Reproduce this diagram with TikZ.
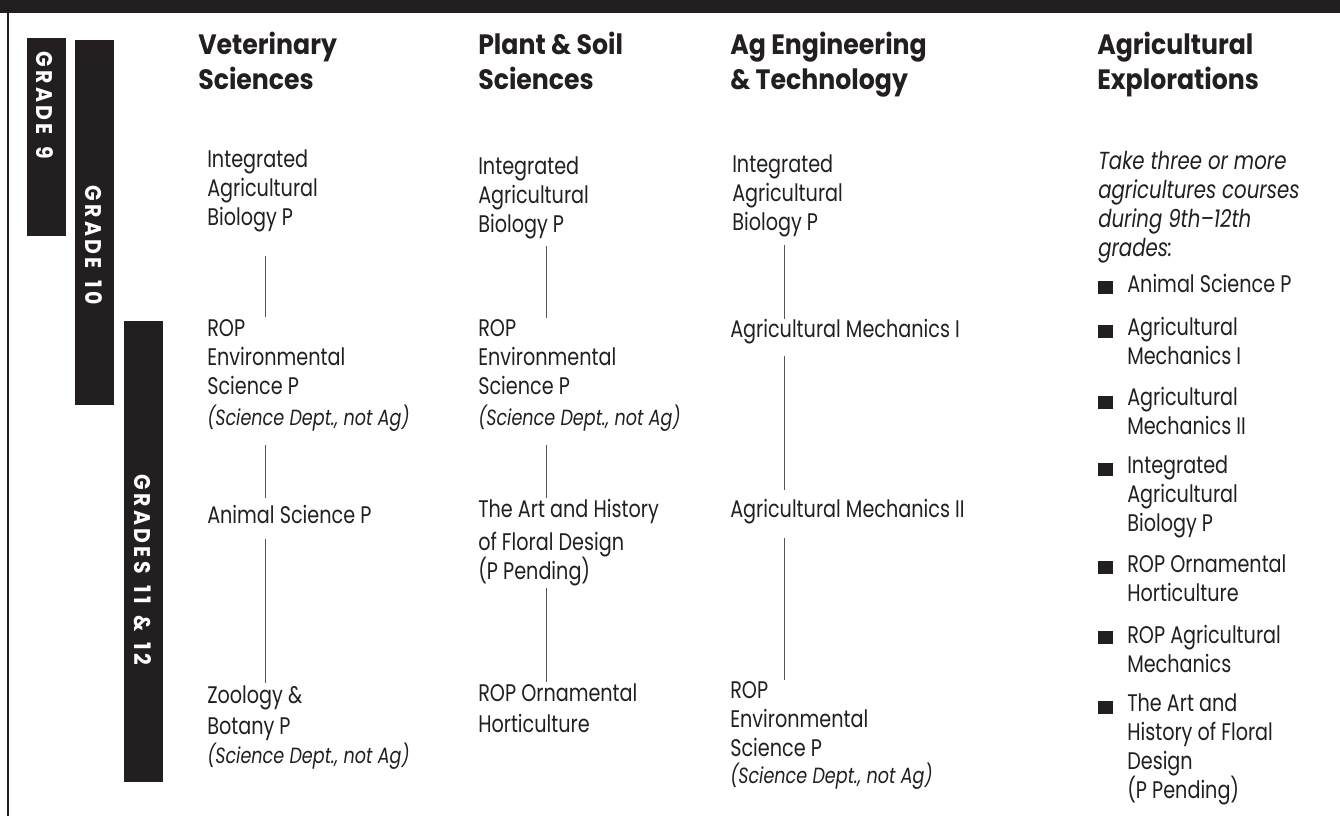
\documentclass[tikz,border=0pt]{standalone}
\usepackage{fontspec}
\setmainfont{Poppins}[FakeStretch=0.80]
\newfontfamily\headfont{Poppins}[FakeStretch=0.90]
\usetikzlibrary{positioning}
\definecolor{ink}{HTML}{231F20}
\definecolor{linkgray}{HTML}{555555}

\begin{document}
\begin{tikzpicture}[x=0.75pt, y=-0.75pt,
    course/.style={anchor=base west, inner sep=0pt, align=left, text=ink,
        font=\fontsize{18}{21.75}\selectfont},
    intro/.style={course, font=\fontsize{18.5}{21.75}\selectfont\itshape},
    head/.style={anchor=base west, inner sep=0pt, align=left, text=ink,
        font=\headfont\bfseries\fontsize{21}{26.25}\selectfont},
    gradetext/.style={text=white, rotate=-90, inner sep=0pt,
        font=\headfont\bfseries\fontsize{17}{17}\selectfont\addfontfeature{LetterSpace=15}},
    bullet/.style={fill=ink, inner sep=0pt, minimum width=11.25pt, minimum height=9.75pt},
    link/.style={draw=linkgray, line width=0.75pt}]
        \newcommand{\deptnote}{\fontsize{16.5}{18}\selectfont\itshape(Science Dept., not Ag)}

        \useasboundingbox (0, 0) rectangle (1340, 816);
        \fill[ink] (0, 0) rectangle (1340, 12.7);
        \draw[ink, line width=2.2pt] (8, 0) -- (8, 816);

        \fill[ink] (27, 38) rectangle (66, 236);
        \fill[ink] (75, 40) rectangle (114, 405);
        \fill[ink] (124, 321) rectangle (163, 782);
        \node[gradetext] (g9) at (45, 105) {GRADE\enspace 9};
        \node[gradetext] (g10) at (94, 245) {GRADE\enspace 10};
        \node[gradetext] (g11) at (143, 570) {GRADES\enspace 11\enspace\&\enspace 12};

        \node[head] (hvet) at (198, 90) {Veterinary\\Sciences};
        \node[head] (hplant) at (478, 90) {Plant \& Soil\\Sciences};
        \node[head] (heng) at (730, 90) {Ag Engineering\\\& Technology};
        \node[head] (hexp) at (1097, 90) {Agricultural\\Explorations};

        \node[course] (v1) at (207, 226) {Integrated\\Agricultural\\Biology P};
        \node[course] (v2) at (207, 426) {ROP\\Environmental\\Science P\\[1.5pt]\deptnote};
        \node[course] (v3) at (207, 524) {Animal Science P};
        \node[course] (v4) at (207, 763) {Zoology \&\\[1.5pt]Botany P\\\deptnote};

        \node[course] (p1) at (478, 233) {Integrated\\Agricultural\\Biology P};
        \node[course] (p2) at (478, 426) {ROP\\Environmental\\Science P\\[1.5pt]\deptnote};
        \node[course] (p3) at (478, 580) {The Art and History\\[3pt]of Floral Design\\(P Pending)};
        \node[course] (p4) at (478, 732) {ROP Ornamental\\[1.5pt]Horticulture};

        \node[course] (e1) at (732, 231) {Integrated\\Agricultural\\Biology P};
        \node[course] (e2) at (730, 338) {Agricultural Mechanics I};
        \node[course] (e3) at (730, 518) {Agricultural Mechanics II};
        \node[course] (e4) at (730, 783) {ROP\\Environmental\\Science P\\[-2pt]\deptnote};

        \coordinate (vline) at (265, 0);
        \coordinate (pline) at (546, 0);
        \coordinate (eline) at (784, 0);

        \draw[link, shorten <=17.4pt, shorten >=2.25pt] (v1.south -| vline) -- (v2.north -| vline);
        \draw[link, shorten <=9.5pt, shorten >=5.4pt] (v2.south -| vline) -- (v3.north -| vline);
        \draw[link, shorten <=11.25pt, shorten >=1.6pt] (v3.south -| vline) -- (v4.north -| vline);

        \draw[link, shorten <=4.6pt, shorten >=1.5pt] (p1.south -| pline) -- (p2.north -| pline);
        \draw[link, shorten <=9.5pt, shorten >=0.9pt] (p2.south -| pline) -- (p3.north -| pline);
        \draw[link, shorten <=0.9pt, shorten >=0.9pt] (p3.south -| pline) -- (p4.north -| pline);

        \draw[link, shorten <=5.4pt] (e1.south -| eline) -- (e2.north -| eline);
        \draw[link, shorten <=8.4pt, shorten >=6.9pt] (e2.south -| eline) -- (e3.north -| eline);
        \draw[link, shorten <=9.9pt, shorten >=0.75pt] (e3.south -| eline) -- (e4.north -| eline);

        \node[intro] (take) at (1098, 257) {Take three or more\\agricultures courses\\during 9th--12th\\grades:};
        \node[course] (x1) at (1127, 293) {Animal Science P};
        \node[course] (x2) at (1127, 365) {Agricultural\\Mechanics I};
        \node[course] (x3) at (1127, 435) {Agricultural\\Mechanics II};
        \node[course] (x4) at (1127, 532) {Integrated\\Agricultural\\Biology P};
        \node[course] (x5) at (1127, 602) {ROP Ornamental\\Horticulture};
        \node[course] (x6) at (1127, 672) {ROP Agricultural\\Mechanics};
        \node[course] (x7) at (1127, 798) {The Art and\\History of Floral\\Design\\(P Pending)};
        \node[bullet] (b1) at (1105.5, 287.5) {};
        \node[bullet] (b2) at (1105.5, 331.5) {};
        \node[bullet] (b3) at (1105.5, 402.5) {};
        \node[bullet] (b4) at (1105.5, 469.5) {};
        \node[bullet] (b5) at (1105.5, 567.5) {};
        \node[bullet] (b6) at (1105.5, 637.5) {};
        \node[bullet] (b7) at (1105.5, 707.5) {};
    \end{tikzpicture}
\end{document}
